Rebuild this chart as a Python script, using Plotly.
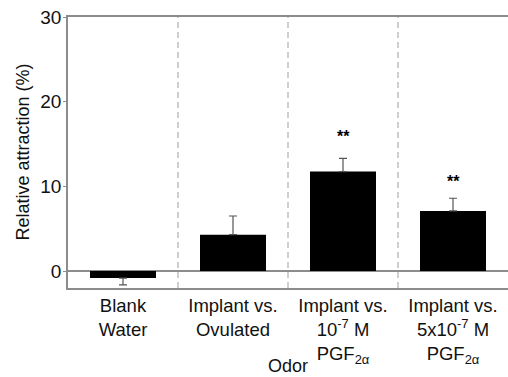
import plotly.graph_objects as go

categories = ["Blank<br>Water", "Implant vs.<br>Ovulated",
              "Implant vs.<br>10<sup>-7</sup> M<br>PGF<sub>2α</sub>",
              "Implant vs.<br>5x10<sup>-7</sup> M<br>PGF<sub>2α</sub>"]
values = [-0.83, 4.3, 11.75, 7.1]
err_up = [0.0, 2.2, 1.55, 1.5]
err_down = [0.8, 0.0, 0.0, 0.0]
sig_labels = ["", "", "**", "**"]
sig_y = [0, 0, 15.85, 10.6]
y_ticks = [0, 10, 20, 30]

FONT = "Liberation Sans, Arial, sans-serif"
AX = "#8c8c8c"
xpos = list(range(len(categories)))

fig = go.Figure()
fig.add_trace(go.Bar(
    x=xpos, y=values, width=0.6,
    marker=dict(color="black", line=dict(width=0)),
    error_y=dict(type="data", symmetric=False, array=err_up, arrayminus=err_down,
                 color="#555555", thickness=1.2, width=4),
    showlegend=False,
))

for i in range(len(categories) - 1):
    fig.add_shape(type="line", xref="x", yref="paper", x0=i + 0.5, x1=i + 0.5, y0=0, y1=1,
                  line=dict(color="#b0b0b0", width=1.2, dash="6px,4px"), layer="below")

for i, (lab, yy) in enumerate(zip(sig_labels, sig_y)):
    if lab:
        fig.add_annotation(x=i, y=yy, text="<b>" + lab + "</b>", showarrow=False,
                           font=dict(size=16, color="black", family=FONT))

fig.add_annotation(xref="paper", yref="paper", x=0.5, y=-0.286, text="Odor", showarrow=False,
                   font=dict(size=18, color="#111", family=FONT), yanchor="middle",
                   borderpad=0)
fig.add_annotation(xref="paper", yref="paper", x=-0.1045, y=0.5, text="Relative attraction (%)",
                   showarrow=False, textangle=-90,
                   font=dict(size=18, color="#111", family=FONT), xanchor="center", yanchor="middle")

fig.update_layout(
    width=508, height=377,
    margin=dict(l=68, r=0, t=17, b=89),
    plot_bgcolor="white", paper_bgcolor="white",
    font=dict(family=FONT, size=18.5, color="#111"),
    bargap=0.4,
    xaxis=dict(range=[-0.5, 3.5], tickvals=xpos, ticktext=categories, ticks="",
               showline=True, linecolor=AX, linewidth=1.6, mirror=True,
               showgrid=False, zeroline=False, tickfont=dict(size=18.5)),
    yaxis=dict(range=[-2, 30], tickvals=y_ticks, ticks="outside", ticklen=3, tickcolor=AX,
               showline=True, linecolor=AX, linewidth=1.6, showgrid=False,
               zeroline=True, zerolinecolor=AX, zerolinewidth=1.6,
               tickfont=dict(size=19), ticklabelstandoff=-2),
)

fig.write_html("out.html")
